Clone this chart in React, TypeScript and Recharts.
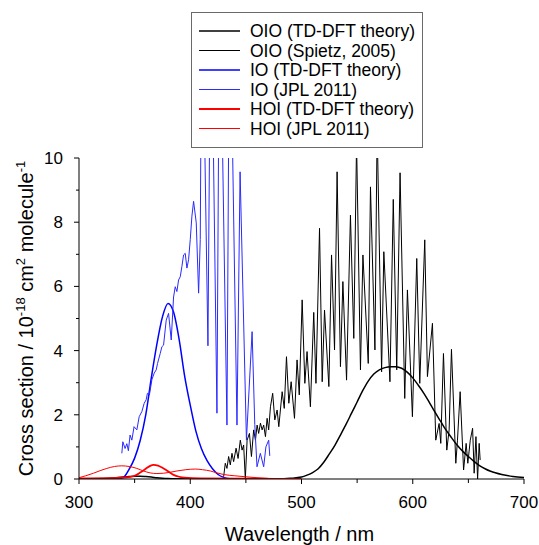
import React from 'react';
import { LineChart, Line, XAxis, YAxis, Label, Legend } from 'recharts';

const FONT = '"Liberation Sans", Arial, Helvetica, sans-serif';

// ---- data (wavelength in nm, cross section in 1e-18 cm2 molecule-1) ----
const oioTheoryWl = [300, 310, 320, 330, 335, 340, 345, 350, 355, 360, 365, 370, 375, 380, 390, 400, 450, 480, 490, 500, 505, 510, 515, 520, 525, 530, 535, 540, 545, 550, 555, 560, 565, 570, 575, 580, 585, 590, 595, 600, 605, 610, 615, 620, 625, 630, 635, 640, 645, 650, 655, 660, 665, 670, 680, 690, 700];
const oioTheoryVal = [0, 0.005, 0.015, 0.03, 0.045, 0.06, 0.075, 0.085, 0.085, 0.075, 0.06, 0.04, 0.025, 0.015, 0.005, 0, 0, 0, 0.02, 0.06, 0.12, 0.2, 0.32, 0.52, 0.78, 1.05, 1.37, 1.7, 2.05, 2.4, 2.75, 3.05, 3.27, 3.4, 3.47, 3.5, 3.5, 3.45, 3.33, 3.15, 2.92, 2.67, 2.38, 2.08, 1.8, 1.52, 1.28, 1.05, 0.86, 0.7, 0.55, 0.42, 0.32, 0.24, 0.14, 0.08, 0.05];

const oioSpietzWl = [430.0, 431.5, 433.0, 434.5, 436.0, 437.5, 439.0, 441.2, 443.0, 445.0, 446.6, 448.0, 449.5, 451.1, 453.2, 455.0, 457.0, 458.6, 460.1, 461.5, 463.1, 464.6, 466.0, 467.6, 469.1, 470.5, 472.1, 474.1, 476.0, 478.1, 479.6, 482.6, 484.5, 486.5, 488.6, 490.7, 493.7, 496.0, 498.0, 500.6, 503.0, 505.0, 508.0, 511.0, 513.0, 516.2, 518.6, 520.7, 524.6, 527.0, 529.7, 532.0, 535.0, 537.2, 540.5, 544.0, 547.0, 549.5, 553.0, 555.2, 560.0, 562.0, 566.0, 568.0, 572.0, 574.0, 579.5, 582.5, 585.6, 588.6, 592.8, 595.2, 599.7, 603.6, 606.3, 610.8, 613.2, 617.7, 620.7, 623.7, 625.2, 627.6, 630.6, 632.7, 634.8, 638.7, 640.2, 642.6, 645.7, 648.0, 649.5, 651.7, 653.8, 655.2, 656.8, 658.3, 659.7, 660.6];
const oioSpietzVal = [0.07, 0.49, 0.33, 0.7, 0.44, 0.8, 0.54, 0.96, 0.64, 1.21, 0.9, 1.06, 0.0, 1.21, 1.42, 0.7, 1.53, 1.21, 1.68, 1.42, 1.74, 1.53, 1.68, 1.32, 1.89, 1.53, 2.25, 2.67, 1.84, 2.15, 1.63, 2.72, 2.2, 3.81, 2.36, 3.03, 1.89, 3.71, 2.62, 5.58, 2.98, 3.97, 2.25, 5.19, 2.98, 7.81, 3.03, 5.26, 2.88, 6.98, 4.02, 9.57, 3.5, 6.15, 3.08, 8.22, 4.38, 10.5, 3.4, 6.98, 3.6, 9.1, 4.02, 11, 3.34, 7.08, 3.03, 8.71, 3.4, 9.54, 2.51, 5.89, 1.94, 6.87, 2.98, 7.45, 3.19, 4.85, 1.21, 1.73, 1.11, 3.91, 0.9, 1.53, 4.04, 0.49, 1.21, 2.72, 0.28, 1.11, 0.49, 1.21, 1.58, 0.18, 1.32, 0.0, 1.11, 0.59];

const ioTheoryWl = [300, 330, 335, 340, 345, 350, 355, 360, 365, 370, 375, 380, 385, 390, 395, 400, 405, 410, 415, 420, 425, 430, 435, 440];
const ioTheoryVal = [0, 0, 0.005, 0.05, 0.3, 0.65, 1.2, 2.0, 3.15, 4.2, 5.05, 5.47, 5.2, 4.35, 3.2, 2.3, 1.5, 0.95, 0.58, 0.32, 0.14, 0.05, 0.01, 0];

const ioJplWl = [338.5, 339.4, 341.4, 343.0, 344.4, 345.9, 347.5, 349.5, 352.0, 354.1, 356.5, 358.6, 360.4, 361.5, 363.3, 365.5, 367.6, 369.4, 370.6, 373.0, 374.5, 376.0, 378.4, 380.5, 382.9, 385.0, 386.5, 388.0, 389.5, 391.0, 392.5, 394.0, 395.5, 397.0, 398.5, 400.0, 401.5, 403.0, 405.4, 407.5, 409.0, 410.5, 415.9, 418.6, 424.0, 426.4, 433.0, 435.4, 442.0, 444.8, 450.5, 455.6, 458.0, 460.0, 463.0, 466.0, 468.0, 470.5, 471.5];
const ioJplVal = [0.8, 1.16, 0.95, 1.1, 0.88, 1.37, 1.21, 1.63, 1.53, 1.94, 2.1, 2.36, 2.47, 2.67, 2.62, 3.09, 3.3, 3.4, 3.6, 3.91, 4.12, 4.17, 4.95, 5.16, 4.33, 5.67, 5.99, 5.84, 6.2, 6.3, 6.62, 6.98, 7.03, 6.57, 6.83, 7.46, 8.19, 8.65, 7.98, 5.79, 7.46, 16, 4.15, 16, 2.05, 16, 1.68, 16, 1.68, 9.57, 1.21, 4.59, 1.7, 0.38, 0.8, 0.38, 1.0, 1.21, 0.72];

const hoiTheoryWl = [300, 330, 345, 350, 355, 360, 364, 367, 371, 375, 380, 385, 390, 395, 410, 450, 500];
const hoiTheoryVal = [0.02, 0.03, 0.06, 0.1, 0.2, 0.32, 0.41, 0.44, 0.42, 0.35, 0.24, 0.13, 0.07, 0.04, 0.02, 0.01, 0];

const hoiJplWl = [300, 306, 313, 319, 325, 332, 338.5, 345, 352, 358, 364, 370, 376, 382, 388, 396, 404.5, 411, 418, 424, 430, 440, 449.5, 460, 470];
const hoiJplVal = [0.04, 0.1, 0.18, 0.26, 0.33, 0.39, 0.41, 0.39, 0.33, 0.25, 0.19, 0.17, 0.18, 0.21, 0.25, 0.29, 0.31, 0.29, 0.25, 0.19, 0.14, 0.1, 0.07, 0.04, 0.02];

const xTicks = [300, 350, 400, 450, 500, 550, 600, 650, 700];
const yTicks = [0, 1, 2, 3, 4, 5, 6, 7, 8, 9, 10];

const zip = (wl: number[], v: number[]) => wl.map((x, i) => ({ x, y: v[i] }));

const series = [
  { name: 'OIO (TD-DFT theory)', data: zip(oioTheoryWl, oioTheoryVal), color: '#000000', width: 1.5, curve: 'monotone' },
  { name: 'OIO (Spietz, 2005)', data: zip(oioSpietzWl, oioSpietzVal), color: '#000000', width: 1, curve: 'linear' },
  { name: 'IO (TD-DFT theory)', data: zip(ioTheoryWl, ioTheoryVal), color: '#0000ff', width: 1.5, curve: 'monotone' },
  { name: 'IO (JPL 2011)', data: zip(ioJplWl, ioJplVal), color: '#2a2aff', width: 1, curve: 'linear' },
  { name: 'HOI (TD-DFT theory)', data: zip(hoiTheoryWl, hoiTheoryVal), color: '#ff0000', width: 1.8, curve: 'monotone' },
  { name: 'HOI (JPL 2011)', data: zip(hoiJplWl, hoiJplVal), color: '#ff0000', width: 1, curve: 'monotone' },
];

const XTick = (props: any) => {
  const { x, y, payload } = props;
  const major = payload.value % 100 === 0;
  return (
    <g>
      <line x1={x} x2={x} y1={y} y2={y + (major ? 5 : 4)} stroke="#000" strokeWidth={1} />
      {major && (
        <text x={x} y={y + 29} textAnchor="middle" fontSize={17} fontFamily={FONT} fill="#000">
          {payload.value}
        </text>
      )}
    </g>
  );
};

const YTick = (props: any) => {
  const { x, y, payload } = props;
  const major = payload.value % 2 === 0;
  return (
    <g>
      <line x1={x - (major ? 5 : 3)} x2={x} y1={y} y2={y} stroke="#000" strokeWidth={1} />
      {major && (
        <text x={x - 16} y={y + 6} textAnchor="end" fontSize={17} fontFamily={FONT} fill="#000">
          {payload.value}
        </text>
      )}
    </g>
  );
};

const YTitle = (props: any) => {
  const vb = props.viewBox || { x: 0, y: 158, width: 79, height: 321 };
  const cx = vb.x + 33;
  const cy = vb.y + vb.height / 2;
  return (
    <text x={cx} y={cy} transform={`rotate(-90, ${cx}, ${cy})`} textAnchor="middle" fontSize={20} fontFamily={FONT} fill="#000">
      <tspan>Cross section / 10</tspan>
      <tspan dy={-8} fontSize={13}>-18</tspan>
      <tspan dy={8}> cm</tspan>
      <tspan dy={-8} fontSize={13}>2</tspan>
      <tspan dy={8}> molecule</tspan>
      <tspan dy={-8} fontSize={13}>-1</tspan>
    </text>
  );
};

const XTitle = (props: any) => {
  const vb = props.viewBox || { x: 79, y: 479, width: 445, height: 66 };
  return (
    <text x={vb.x + vb.width / 2 - 2} y={vb.y + 61.5} textAnchor="middle" fontSize={20} fontFamily={FONT} fill="#000">
      Wavelength / nm
    </text>
  );
};

const LegendBox = () => (
  <div
    style={{
      width: 232,
      height: 136,
      boxSizing: 'border-box',
      border: '1.5px solid #6a6a6a',
      background: '#fff',
      position: 'relative',
      fontFamily: FONT,
    }}
  >
    <svg width={232} height={136} style={{ position: 'absolute', left: -1.5, top: -1.5 }}>
      {series.map((s, i) => {
        const cy = 19 + i * 19.5;
        return (
          <g key={s.name}>
            <line x1={8} x2={49} y1={cy} y2={cy} stroke={s.color} strokeWidth={s.width} />
            <text x={59} y={cy + 6.3} fontSize={17.5} fontFamily={FONT} fill="#000">
              {s.name}
            </text>
          </g>
        );
      })}
    </svg>
  </div>
);

export default function App() {
  return (
    <div style={{ position: 'absolute', left: 0, top: 0, width: 539, height: 545, background: '#fff' }}>
      <LineChart width={539} height={545} margin={{ top: 158, right: 15, bottom: 0, left: 0 }}>
        <XAxis
          dataKey="x"
          type="number"
          domain={[300, 700]}
          allowDataOverflow
          ticks={xTicks}
          interval={0}
          height={66}
          tickSize={0}
          tickMargin={0}
          tickLine={false}
          tick={<XTick />}
          axisLine={{ stroke: '#000', strokeWidth: 1 }}
        >
          <Label content={<XTitle />} />
        </XAxis>
        <XAxis
          xAxisId="top"
          dataKey="x"
          type="number"
          domain={[300, 700]}
          orientation="top"
          height={0}
          tick={false}
          tickLine={false}
          axisLine={{ stroke: '#000', strokeWidth: 1 }}
        />
        <YAxis
          type="number"
          domain={[0, 10]}
          allowDataOverflow
          ticks={yTicks}
          interval={0}
          width={79}
          tickSize={0}
          tickMargin={0}
          tickLine={false}
          tick={<YTick />}
          axisLine={{ stroke: '#000', strokeWidth: 1 }}
        >
          <Label content={<YTitle />} />
        </YAxis>
        <YAxis
          yAxisId="right"
          type="number"
          domain={[0, 10]}
          orientation="right"
          width={0}
          tick={false}
          tickLine={false}
          axisLine={{ stroke: '#8c8c8c', strokeWidth: 1.5 }}
        />
        {series.map((s) => (
          <Line
            key={s.name}
            name={s.name}
            data={s.data}
            dataKey="y"
            type={s.curve as any}
            stroke={s.color}
            strokeWidth={s.width}
            dot={false}
            activeDot={false}
            isAnimationActive={false}
          />
        ))}
        <Legend
          layout="vertical"
          align="center"
          verticalAlign="middle"
          content={<LegendBox />}
          wrapperStyle={{ position: 'absolute', left: 191, top: 12, width: 232, height: 136 }}
        />
      </LineChart>
    </div>
  );
}
